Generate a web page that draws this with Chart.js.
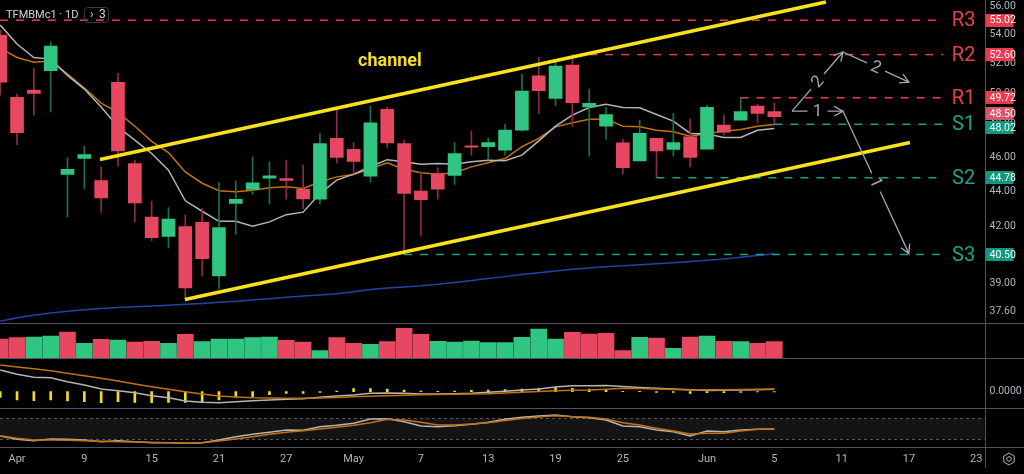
<!DOCTYPE html>
<html>
<head>
<meta charset="utf-8">
<title>TFMBMc1 1D</title>
<script src="https://cdn.jsdelivr.net/npm/chart.js@4.4.1/dist/chart.umd.min.js"></script>
<style>
  html, body { margin: 0; padding: 0; background: #000; overflow: hidden; }
  canvas { display: block; }
</style>
</head>
<body>
<canvas id="chart" width="1024" height="474"></canvas>
<script>
// daily bars, index 0 = last bar of March
const xTickIdx    = [1, 5, 9, 13, 17, 21, 25, 29, 33, 37, 42, 46, 50, 54, 58];
const xTickLabels = ["Apr", "9", "15", "21", "27", "May", "7", "13", "19", "25", "Jun", "5", "11", "17", "23"];
const priceTicks  = [56, 54, 52, 50, 48, 46, 44, 42, 39, 37.6];

const open  = [53.96, 49.74, 50.21, 51.50, 44.97, 45.92, 44.62, 50.72, 45.62, 42.54,
               41.48, 42.01, 42.25, 39.38, 43.30, 44.10, 44.75, 44.73, 44.11, 43.54,
               47.14, 46.47, 44.87, 48.96, 46.83, 44.00, 45.03, 44.91, 46.67, 46.63,
               46.42, 47.65, 51.16, 49.67, 51.89, 49.13, 47.90, 46.87, 45.78, 47.14,
               46.47, 47.24, 46.48, 47.97, 48.28, 49.18, 48.83];
const high  = [54.32, 49.95, 51.66, 53.49, 45.96, 46.67, 45.42, 51.32, 45.82, 43.43,
               43.07, 42.64, 43.01, 44.50, 44.60, 46.02, 45.72, 45.82, 45.52, 47.45,
               48.92, 46.89, 49.19, 49.11, 47.04, 45.12, 45.38, 46.89, 47.59, 47.16,
               48.01, 51.26, 52.41, 52.07, 52.60, 50.28, 49.09, 47.08, 48.28, 47.14,
               48.71, 48.35, 49.24, 48.60, 49.72, 49.30, 49.39];
const low   = [49.89, 46.75, 48.60, 48.81, 42.54, 44.13, 42.79, 45.46, 42.27, 41.23,
               40.85, 38.19, 39.38, 38.74, 41.59, 43.81, 43.26, 43.54, 43.01, 43.26,
               45.66, 45.03, 44.50, 46.56, 40.50, 41.50, 43.54, 44.39, 46.12, 45.82,
               46.12, 47.59, 48.71, 49.18, 47.86, 46.06, 47.08, 44.99, 45.78, 44.78,
               46.06, 45.42, 46.48, 47.34, 48.28, 48.11, 47.97];
const close = [50.74, 47.49, 49.99, 53.19, 45.28, 46.16, 43.62, 46.38, 43.33, 41.41,
               42.42, 38.77, 40.29, 41.96, 43.54, 44.48, 44.89, 44.62, 43.56, 46.83,
               45.98, 45.74, 48.11, 46.87, 43.87, 43.52, 44.11, 46.22, 46.60, 46.89,
               47.65, 50.15, 50.17, 51.82, 49.40, 49.36, 48.64, 45.38, 47.45, 46.38,
               46.89, 45.98, 49.09, 47.53, 48.83, 48.71, 48.50];

const maFast = [54.67, 53.33, 52.40, 52.29, 51.19, 50.28, 49.11, 47.85, 47.04, 46.22,
                45.22, 43.45, 42.86, 42.30, 42.30, 42.03, 42.27, 42.67, 42.81, 43.87,
                44.64, 44.99, 45.43, 45.85, 45.73, 45.58, 45.62, 45.58, 45.72, 45.82,
                45.78, 46.12, 46.99, 47.90, 48.60, 49.08, 49.29, 49.09, 49.07, 48.64,
                48.22, 47.45, 47.41, 47.20, 47.20, 47.65, 47.76];
const maSlow = [53.05, 52.40, 52.07, 52.16, 51.28, 50.35, 49.37, 48.77, 47.90, 46.96,
                46.27, 45.12, 44.46, 44.03, 43.96, 44.06, 44.20, 44.25, 44.15, 44.54,
                44.83, 44.97, 45.31, 45.66, 45.28, 45.07, 44.99, 45.07, 45.42, 45.66,
                45.92, 46.63, 47.14, 47.86, 48.11, 48.33, 48.36, 47.90, 47.86, 47.65,
                47.55, 47.28, 47.45, 47.59, 47.70, 47.90, 48.01];
const ma200  = [37.12, 37.29, 37.41, 37.52, 37.61, 37.68, 37.74, 37.79, 37.83, 37.87,
                37.91, 37.95, 37.99, 38.05, 38.10, 38.16, 38.23, 38.30, 38.36, 38.42,
                38.48, 38.58, 38.69, 38.77, 38.82, 38.88, 38.96, 39.05, 39.15, 39.25,
                39.35, 39.46, 39.55, 39.64, 39.73, 39.80, 39.86, 39.91, 39.96, 40.02,
                40.07, 40.13, 40.20, 40.27, 40.36, 40.45, 40.55];

// volume, thousand lots
const volume = [19.0, 20.3, 21.0, 22.0, 26.0, 14.7, 18.7, 18.0, 16.0, 16.7,
                14.7, 23.7, 16.3, 19.0, 19.0, 20.3, 21.0, 17.7, 16.0, 7.3,
                20.3, 14.7, 13.7, 16.3, 29.7, 23.7, 16.7, 16.0, 17.0, 15.3,
                15.3, 20.7, 29.0, 19.0, 25.7, 24.0, 24.7, 7.3, 20.7, 20.0,
                9.7, 21.0, 22.0, 16.7, 16.3, 14.7, 16.3];

const macdLine = [2.17, 1.74, 1.44, 1.40, 1.00, 0.67, 0.27, 0.10, -0.10, -0.40,
                  -0.60, -0.93, -1.06, -1.10, -1.00, -0.90, -0.83, -0.76, -0.70, -0.56,
                  -0.43, -0.33, -0.16, -0.13, -0.16, -0.23, -0.23, -0.20, -0.16, -0.06,
                  0.04, 0.17, 0.27, 0.47, 0.60, 0.60, 0.62, 0.52, 0.42, 0.34,
                  0.27, 0.20, 0.12, 0.15, 0.17, 0.19, 0.24];
const macdSignal = [2.67, 2.47, 2.29, 2.10, 1.84, 1.59, 1.34, 1.07, 0.78, 0.50,
                    0.25, 0.00, -0.23, -0.43, -0.53, -0.60, -0.63, -0.66, -0.65, -0.63,
                    -0.59, -0.50, -0.46, -0.40, -0.35, -0.30, -0.28, -0.26, -0.23, -0.20,
                    -0.13, -0.06, 0.01, 0.10, 0.14, 0.17, 0.24, 0.34, 0.31, 0.27,
                    0.22, 0.17, 0.19, 0.20, 0.22, 0.24, 0.27];
const macdHist = [-0.57, -0.83, -0.90, -0.83, -0.93, -1.00, -1.10, -1.00, -1.07, -1.10,
                  -1.07, -1.07, -1.00, -0.83, -0.57, -0.50, -0.30, -0.17, -0.17, -0.07,
                  0.07, 0.30, 0.30, 0.27, 0.17, 0.07, 0.03, 0.07, 0.13, 0.17,
                  0.20, 0.27, 0.30, 0.40, 0.33, 0.27, 0.20, 0.03, 0.03, -0.07,
                  -0.07, -0.17, -0.10, -0.10, -0.07, -0.03, -0.03];

const stochK = [28.7, 19.1, 15.1, 20.0, 19.1, 17.1, 12.2, 15.1, 12.2, 9.3,
                9.3, 7.5, 9.3, 17.1, 26.7, 33.6, 39.4, 46.1, 45.2, 55.7,
                59.7, 65.5, 78.0, 78.8, 70.1, 57.7, 55.7, 58.6, 62.6, 68.4,
                77.1, 82.9, 86.7, 89.6, 84.6, 81.7, 75.1, 57.7, 55.7, 46.1,
                41.2, 28.7, 43.2, 41.2, 46.1, 48.1, 49.0];
const stochD = [29.6, 22.0, 17.1, 17.1, 16.2, 15.1, 13.6, 12.2, 11.3, 10.4,
                9.0, 7.5, 9.3, 14.2, 20.0, 26.7, 33.6, 39.4, 44.1, 49.0,
                53.9, 59.7, 67.2, 77.1, 75.1, 68.4, 60.6, 60.6, 63.5, 67.2,
                73.6, 79.4, 83.8, 87.5, 84.6, 82.9, 78.0, 67.2, 60.6, 51.0,
                43.2, 34.5, 36.5, 36.5, 43.2, 48.1, 49.0];
const stochBands = [80, 20];

// drawn levels: name, price, bar where the level starts
const levelNames  = ["R3", "R2", "R1", "S1", "S2", "S3"];
const levelValues = [55.02, 52.60, 49.72, 48.02, 44.78, 40.50];
const levelStart  = [-0.02, 35, 44, 46, 39, 24];

// channel drawing (bar index, price)
const channelUpper = [{ x: 5.93, y: 45.86 }, { x: 49.07, y: 56.34 }];
const channelLower = [{ x: 10.98, y: 38.19 }, { x: 54.06, y: 46.89 }];

// scenario arrows
const scenario1 = [{ x: 47.05, y: 48.85 }, { x: 50.08, y: 48.85 }, { x: 54.0, y: 40.55 }];
const scenario2 = [{ x: 47.05, y: 48.85 }, { x: 50.08, y: 52.78 }, { x: 54.0, y: 50.74 }];

const GREEN = "#30c580", RED = "#e84762";
const GREEN_WICK = "#1d7049", RED_WICK = "#8e2d40";
const LEVEL_RED = "#e5404f", LEVEL_TEAL = "#1fa088";
const TEXT = "#b2b5be";
const LEVEL_END = 56.05, LEVEL_LABEL = 57.25;
const TAG_H = 13;

const up = close.map((c, i) => c >= open[i]);
const volUp = close.map((c, i) => i === 0 ? c >= open[0] : c >= close[i - 1]);

Chart.defaults.font.family = "Roboto, 'Noto Sans', sans-serif";
Chart.defaults.color = TEXT;

// no label overhang padding, fixed axis strip sizes
function fixSize(s) {
  if (s.isHorizontal()) s.height = 27; else s.width = 39.5;
  s.paddingTop = 0; s.paddingBottom = 0; s.paddingLeft = 0; s.paddingRight = 0;
}

function levelDatasets() {
  return levelValues.map((v, i) => ({
    type: "line",
    label: levelNames[i],
    data: [{ x: levelStart[i], y: v }, { x: LEVEL_END, y: v }],
    yAxisID: "y",
    borderColor: i < 3 ? LEVEL_RED : LEVEL_TEAL,
    borderWidth: 1.5,
    borderDash: [8, 8],
    pointRadius: 0,
    order: 1
  }));
}

function lineSet(label, values, axis, color, order) {
  return {
    type: "line",
    label,
    data: values.map((v, i) => ({ x: i, y: v })),
    yAxisID: axis,
    borderColor: color,
    borderWidth: 1.5,
    pointRadius: 0,
    tension: 0,
    order
  };
}

function drawArrowPath(ctx, pts, label) {
  for (let k = 1; k < pts.length; k++) {
    const [x0, y0] = pts[k - 1];
    const [x1, y1] = pts[k];
    const dx = x1 - x0, dy = y1 - y0;
    const len = Math.hypot(dx, dy);
    const ux = dx / len, uy = dy / len;
    const mx = (x0 + x1) / 2, my = (y0 + y1) / 2;
    const gap = 10;
    const ang = Math.atan2(dy, dx);
    ctx.beginPath();
    ctx.moveTo(x0, y0);
    ctx.lineTo(mx - ux * gap, my - uy * gap);
    ctx.moveTo(mx + ux * gap, my + uy * gap);
    ctx.lineTo(x1, y1);
    ctx.moveTo(x1 - 10 * Math.cos(ang - 0.5), y1 - 10 * Math.sin(ang - 0.5));
    ctx.lineTo(x1, y1);
    ctx.lineTo(x1 - 10 * Math.cos(ang + 0.5), y1 - 10 * Math.sin(ang + 0.5));
    ctx.stroke();
    let r = ang;
    if (r > Math.PI / 2) r -= Math.PI;
    if (r < -Math.PI / 2) r += Math.PI;
    ctx.save();
    ctx.translate(mx, my);
    ctx.rotate(r);
    ctx.fillText(label, 0, 1);
    ctx.restore();
  }
}

const overlay = {
  id: "overlay",
  beforeDatasetsDraw(chart) {
    const { ctx, chartArea: a, scales } = chart;
    const s = scales.yStoch;
    const t = Math.round(s.getPixelForValue(stochBands[0])) + 0.5;
    const b = Math.round(s.getPixelForValue(stochBands[1])) + 0.5;
    ctx.save();
    ctx.fillStyle = "#141414";
    ctx.fillRect(a.left, t, a.width, b - t);
    ctx.strokeStyle = "#53565e";
    ctx.lineWidth = 1;
    ctx.setLineDash([3, 3]);
    for (const y of [t, b]) {
      ctx.beginPath();
      ctx.moveTo(a.left, y);
      ctx.lineTo(a.right, y);
      ctx.stroke();
    }
    ctx.restore();
  },
  afterDraw(chart) {
    const { ctx, chartArea: a, scales } = chart;
    const sx = scales.x, sy = scales.y;
    ctx.save();

    // pane separators and price-axis edge
    ctx.strokeStyle = "#50535c";
    ctx.lineWidth = 1;
    for (const id of ["y", "yVol", "yMacd", "yStoch"]) {
      const y = Math.round(scales[id].bottom) + 0.5;
      ctx.beginPath(); ctx.moveTo(0, y); ctx.lineTo(chart.width, y); ctx.stroke();
    }
    const ex = Math.round(a.right) + 0.5;
    ctx.beginPath(); ctx.moveTo(ex, 0); ctx.lineTo(ex, sx.bottom - 6); ctx.stroke();

    // scenario arrows
    ctx.strokeStyle = "#a3a6ad";
    ctx.fillStyle = "#a3a6ad";
    ctx.lineWidth = 1.3;
    ctx.font = "17px Roboto";
    ctx.textAlign = "center";
    ctx.textBaseline = "middle";
    const px = pts => pts.map(p => [sx.getPixelForValue(p.x), sy.getPixelForValue(p.y)]);
    drawArrowPath(ctx, px(scenario2), "2");
    drawArrowPath(ctx, px(scenario1), "1");

    // channel caption
    ctx.fillStyle = "#f5dc1f";
    ctx.font = "bold 18px Roboto";
    ctx.fillText("channel", sx.getPixelForValue(23.16), sy.getPixelForValue(52.16));

    // level names
    ctx.font = "20px Roboto";
    levelValues.forEach((v, i) => {
      ctx.fillStyle = i < 3 ? LEVEL_RED : LEVEL_TEAL;
      ctx.fillText(levelNames[i], sx.getPixelForValue(LEVEL_LABEL), sy.getPixelForValue(v) + 1);
    });

    // price tags on the axis, nudged apart where they would overlap
    const tags = levelValues.map((v, i) => ({ v, bg: i < 3 ? "#ea3a4f" : "#14977f" }));
    tags.push({ v: close[close.length - 1], bg: "#d95468" });
    tags.forEach(t => { t.y = sy.getPixelForValue(t.v); });
    tags.sort((p, q) => p.y - q.y);
    for (let k = 1; k < tags.length; k++) {
      const overlap = TAG_H + 1 - (tags[k].y - tags[k - 1].y);
      if (overlap > 0) { tags[k - 1].y -= overlap / 2; tags[k].y += overlap / 2; }
    }
    ctx.font = "10.5px Roboto";
    ctx.textAlign = "left";
    for (const t of tags) {
      ctx.fillStyle = t.bg;
      ctx.fillRect(a.right + 1, Math.round(t.y - TAG_H / 2), 28, TAG_H);
      ctx.fillStyle = "#ffffff";
      ctx.fillText(t.v.toFixed(2), a.right + 5, t.y + 0.5);
    }

    // symbol caption
    ctx.fillStyle = "#d1d4dc";
    ctx.font = "11px Roboto";
    ctx.textBaseline = "middle";
    ctx.fillText("TFMBMc1 \u00b7 1D", 6, 15);
    ctx.strokeStyle = "#3a3c42";
    ctx.lineWidth = 1;
    ctx.beginPath();
    ctx.roundRect(84.5, 7.5, 24, 15, 3);
    ctx.stroke();
    ctx.font = "12px Roboto";
    ctx.fillText("\u203a", 90, 14.5);
    ctx.fillText("3", 99, 15);

    // settings glyph
    const gx = 1009, gy = 459;
    ctx.strokeStyle = TEXT;
    ctx.beginPath();
    for (let k = 0; k < 6; k++) {
      const t = Math.PI / 3 * k + Math.PI / 6;
      const x = gx + 6 * Math.cos(t), y = gy + 6 * Math.sin(t);
      k ? ctx.lineTo(x, y) : ctx.moveTo(x, y);
    }
    ctx.closePath();
    ctx.stroke();
    ctx.beginPath(); ctx.arc(gx, gy, 2.3, 0, Math.PI * 2); ctx.stroke();
    ctx.restore();
  }
};

const hiddenAxis = (weight, min, max) => ({
  type: "linear", position: "right", stack: "panes", stackWeight: weight,
  min, max,
  grid: { display: false, drawTicks: false },
  border: { display: false },
  ticks: { display: false },
  afterFit: fixSize
});

new Chart(document.getElementById("chart"), {
  type: "bar",
  data: {
    datasets: [
      { type: "line", label: "channel top", data: channelUpper, yAxisID: "y",
        borderColor: "#f9e21b", borderWidth: 3.5, pointRadius: 0, order: 0 },
      { type: "line", label: "channel bottom", data: channelLower, yAxisID: "y",
        borderColor: "#f9e21b", borderWidth: 3.5, pointRadius: 0, order: 0 },
      ...levelDatasets(),
      {
        label: "body",
        data: open.map((o, i) => ({ x: i, y: [o, close[i]] })),
        yAxisID: "y",
        backgroundColor: up.map(u => u ? GREEN : RED),
        barThickness: 13, minBarLength: 1.5, grouped: false, order: 2
      },
      {
        label: "wick",
        data: low.map((l, i) => ({ x: i, y: [l, high[i]] })),
        yAxisID: "y",
        backgroundColor: up.map(u => u ? GREEN_WICK : RED_WICK),
        barThickness: 1, grouped: false, order: 3
      },
      lineSet("MA fast", maFast, "y", "#b4b4b4", 4),
      lineSet("MA slow", maSlow, "y", "#c2720e", 5),
      lineSet("MA 200", ma200, "y", "#2343a6", 6),
      {
        label: "volume",
        data: volume.map((v, i) => ({ x: i, y: v })),
        yAxisID: "yVol",
        backgroundColor: volUp.map(u => u ? GREEN : RED),
        barThickness: 16, grouped: false, order: 2
      },
      {
        label: "MACD hist",
        data: macdHist.map((v, i) => ({ x: i, y: v })),
        yAxisID: "yMacd",
        backgroundColor: "#f3dc1c",
        barThickness: 2, grouped: false, order: 3
      },
      lineSet("MACD", macdLine, "yMacd", "#b4b4b4", 2),
      lineSet("Signal", macdSignal, "yMacd", "#c2720e", 1),
      lineSet("%K", stochK, "yStoch", "#b4b4b4", 2),
      lineSet("%D", stochD, "yStoch", "#c2720e", 1)
    ]
  },
  options: {
    responsive: false,
    devicePixelRatio: 1,
    animation: false,
    layout: { padding: 0 },
    plugins: { legend: { display: false }, tooltip: { enabled: false } },
    scales: {
      x: {
        type: "linear", position: "bottom",
        min: -0.012, max: 58.49, offset: false,
        grid: { display: false, drawTicks: false, offset: false },
        border: { display: false },
        afterBuildTicks: s => { s.ticks = xTickIdx.map(v => ({ value: v })); },
        afterFit: fixSize,
        ticks: {
          autoSkip: false, maxRotation: 0, padding: 6,
          color: TEXT, font: { size: 11 },
          callback: v => xTickLabels[xTickIdx.indexOf(v)]
        }
      },
      y: {
        type: "logarithmic", position: "right", stack: "panes", stackWeight: 322.5,
        min: 37.06, max: 56.49,
        grid: { display: false, drawTicks: false },
        border: { display: false },
        afterBuildTicks: s => { s.ticks = priceTicks.map(v => ({ value: v })); },
        afterFit: fixSize,
        ticks: {
          autoSkip: false, padding: 5, color: TEXT, font: { size: 10.5 },
          callback: v => Number(v).toFixed(2)
        }
      },
      yVol: hiddenAxis(35.5, 0, 35.5),
      yMacd: {
        ...hiddenAxis(50, -1.63, 3.37),
        afterBuildTicks: s => { s.ticks = [{ value: 0 }]; },
        ticks: { display: true, padding: 5, color: TEXT, font: { size: 10.5 },
                 callback: v => Number(v).toFixed(4) }
      },
      yStoch: hiddenAxis(39, -3.2, 109.9)
    }
  },
  plugins: [overlay]
});
</script>
</body>
</html>
